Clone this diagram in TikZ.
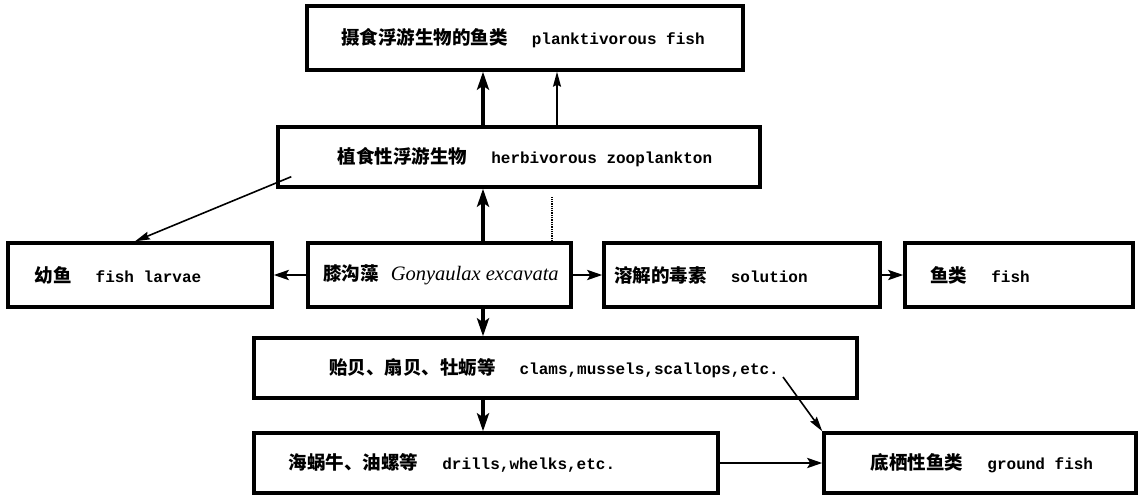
\documentclass[tikz,border=0pt]{standalone}
\usepackage{fontspec}
\setmonofont{Liberation Mono}
\newfontfamily\cjkfont{Noto Sans CJK SC}
\newfontfamily\itfont{Liberation Serif}
\usetikzlibrary{arrows.meta}
\newcommand\zhtxt[1]{{\cjkfont\bfseries\fontsize{18.5}{18.5}\selectfont #1}}
\newcommand\entxt[1]{{\ttfamily\bfseries\fontsize{16}{16}\selectfont #1}}
\newcommand\gap{\hspace{24pt}}
\begin{document}
\begin{tikzpicture}[x=1pt,y=-1pt,
  box/.style={draw, line width=3.4pt, inner sep=0pt},
  lab/.style={inner sep=0pt},
  thk/.style={line width=3.6pt, -{Stealth[length=18pt,width=12pt,inset=4pt]}},
  mid/.style={line width=2.8pt, -{Stealth[length=15pt,width=10pt,inset=3pt]}},
  thn/.style={line width=1.6pt, -{Stealth[length=15pt,width=8pt,inset=2pt]}},
  dot/.style={line width=1.3pt, densely dotted}
]
\useasboundingbox (0,0) rectangle (1140,498);
\fill[white] (0,0) rectangle (1140,498);

% boxes
\node[box, minimum width=436pt, minimum height=64pt] (b1) at (525,38) {};
\node[box, minimum width=482pt, minimum height=60pt] (b2) at (519,157) {};
\node[box, minimum width=264pt, minimum height=64pt] (lv) at (140,275) {};
\node[box, minimum width=263pt, minimum height=64pt] (gy) at (439.5,275) {};
\node[box, minimum width=276pt, minimum height=64pt] (so) at (742,275) {};
\node[box, minimum width=228pt, minimum height=64pt] (fi) at (1019,275) {};
\node[box, minimum width=603pt, minimum height=60pt] (cl) at (555.5,368) {};
\node[box, minimum width=464pt, minimum height=60pt] (dr) at (486,463) {};
\node[box, minimum width=312pt, minimum height=60pt] (gf) at (980,463) {};

% texts
\node[lab] (t1) at (523,38) {\zhtxt{摄食浮游生物的鱼类}\gap\entxt{planktivorous fish}};
\node[lab] (t2) at (525,157) {\zhtxt{植食性浮游生物}\gap\entxt{herbivorous zooplankton}};
\node[lab] (t3) at (118,275) {\zhtxt{幼鱼}\gap\entxt{fish larvae}};
\node[lab] (t4) at (441,275) {\zhtxt{膝沟藻}\hspace{12pt}{\itfont\itshape\fontsize{20.5}{20.5}\selectfont Gonyaulax excavata}};
\node[lab] (t5) at (711,275) {\zhtxt{溶解的毒素}\gap\entxt{solution}};
\node[lab] (t6) at (980,275) {\zhtxt{鱼类}\gap\entxt{fish}};
\node[lab] (t7) at (554,368) {\zhtxt{贻贝、扇贝、牡蛎等}\gap\entxt{clams,mussels,scallops,etc.}};
\node[lab] (t8) at (452,463) {\zhtxt{海蜗牛、油螺等}\gap\entxt{drills,whelks,etc.}};
\node[lab] (t9) at (982,463) {\zhtxt{底栖性鱼类}\gap\entxt{ground fish}};

% connectors
\draw[thk] ([xshift=43.5pt]gy.north) -- ([xshift=-36pt]b2.south);
\draw[thk] ([xshift=-36pt]b2.north) -- ([xshift=-42pt]b1.south);
\draw[thn] ([xshift=38pt]b2.north) -- ([xshift=32pt]b1.south);
\coordinate (dend) at (552,197);
\draw[dot] ([xshift=112.5pt]gy.north) -- (dend);
\draw[thn] ([xshift=15pt,yshift=12pt]b2.south west) -- ([xshift=-5pt]lv.north);
\draw[mid] (gy.west) -- (lv.east);
\draw[mid] (gy.east) -- (so.west);
\draw[mid] (so.east) -- (fi.west);
\draw[thk] ([xshift=43.5pt]gy.south) -- ([xshift=-72.5pt]cl.north);
\draw[thk] ([xshift=-72.5pt]cl.south) -- ([xshift=-3pt]dr.north);
\draw[thn] ([xshift=227.5pt,yshift=-9pt]cl.center) -- (gf.north west);
\draw[mid] (dr.east) -- (gf.west);
\end{tikzpicture}
\end{document}
